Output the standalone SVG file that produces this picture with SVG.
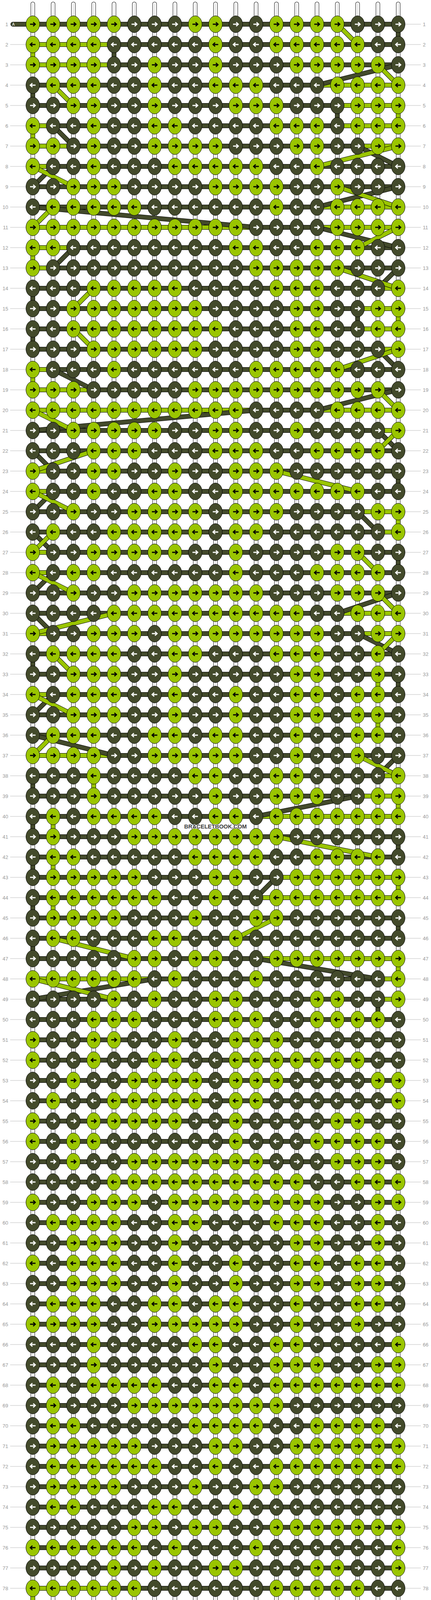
<svg xmlns="http://www.w3.org/2000/svg" xmlns:xlink="http://www.w3.org/1999/xlink" width="1104" height="4232" viewBox="0 0 1104 4232">
<style>
.G{fill:#9ac500;stroke:#000;stroke-width:1}
.D{fill:#434a2b;stroke:#000;stroke-width:1}
.ak{fill:none;stroke:#000;stroke-width:2.8}
.aw{fill:none;stroke:#fff;stroke-width:2.8}
.o{fill:none;stroke:#000;stroke-width:12}
.fd{fill:none;stroke:#434a2b;stroke-width:10}
.fg{fill:none;stroke:#9ac500;stroke-width:10}
text{font-family:"Liberation Sans",Arial,sans-serif}
.lb{font-size:13px;fill:#999}
.le{text-anchor:end}
</style>
<defs>
<g id="a"><ellipse rx="17.5" ry="21.5" class="G"/><path d="M-7 0H6M1-5l5.5 5-5.5 5" class="ak"/></g>
<g id="b"><ellipse rx="17.5" ry="21.5" class="D"/><path d="M-7 0H6M1-5l5.5 5-5.5 5" class="aw"/></g>
<g id="c"><ellipse rx="17.5" ry="21.5" class="G"/><path d="M7 0H-6M-1-5l-5.5 5 5.5 5" class="ak"/></g>
<g id="d"><ellipse rx="17.5" ry="21.5" class="D"/><path d="M7 0H-6M-1-5l-5.5 5 5.5 5" class="aw"/></g>
<pattern id="pb" patternUnits="userSpaceOnUse" x="0" y="36" width="1104" height="52"><rect y="20" width="1104" height="12" fill="#000"/><rect y="21" width="1104" height="10" fill="#434a2b"/></pattern>
<pattern id="pl" patternUnits="userSpaceOnUse" x="0" y="36" width="1104" height="52"><rect y="25.5" width="1104" height="1" fill="#bbb"/></pattern>
<path id="vs" d="M84 10V4222M136 10V4222M188 10V4222M240 10V4222M292 10V4222M344 10V4222M396 10V4222M448 10V4222M500 10V4222M552 10V4222M604 10V4222M656 10V4222M708 10V4222M760 10V4222M812 10V4222M864 10V4222M916 10V4222M968 10V4222M1020 10V4222"/>
<path id="hc" d="M33 62H84M33 4170H84"/>
<path id="hg" d="M84 114H292M84 166H292M812 218H1020M864 270H1020M84 322H136M864 322H1020M84 374H188M916 374H1020M84 426H136M812 530H1020M84 582H656M812 582H1020M84 634H188M84 686H136M968 738H1020M916 790H1020M916 842H1020M968 894H1020M84 946H136M84 998H240M84 1050H656M812 1050H1020M968 1102H1020M84 1206H136M84 1258H136M916 1310H1020M968 1362H1020M84 1414H136M84 1466H136M864 1570H1020M84 1622H136M916 1622H1020M84 1778H136M84 1934H292M968 1986H1020M916 2038H1020M656 2090H1020M708 2246H1020M656 2298H1020M656 2454H1020M84 2506H396M968 2506H1020M968 2558H1020M84 4066H292M84 4118H292M968 4118H1020M916 4170H1020"/>
<path id="vd" d="M1020 62V114M292 114V166M84 218V270M864 270V322M84 738V790M916 790V842M84 842V894M1020 1206V1258M1020 1414V1466M84 1674V1726M1020 1726V1778M84 1986V2038M84 2090V2142M1020 2142V2194M84 2194V2246M84 2298V2350M1020 2350V2402M84 2402V2454M968 2558V2610"/>
<path id="vg" d="M84 114V166M1020 270V322M84 322V374M84 634V686M1020 790V842M84 946V998M1020 1310V1362M968 1726V1778M968 1830V1882M240 1986V2038M1020 2038V2090M136 2090V2142M136 2194V2246M1020 2246V2298M136 2298V2350M1020 2454V2506M84 4066V4118M1020 4118V4170"/>
<path id="dg" d="M864 62L916 114M968 166L1020 218M136 218L188 270M1020 374L812 426M84 426L188 478M864 478L1020 530M136 530L84 582M1020 582L916 634M864 686L1020 738M240 738L188 790M188 842L240 894M1020 894L864 946M968 998L1020 1050M84 1050L188 1102M1020 1102L968 1154M240 1154L84 1206M708 1206L916 1258M84 1258L188 1310M136 1362L84 1414M916 1414L968 1466M84 1466L188 1518M968 1518L1020 1570M292 1570L84 1622M1020 1622L968 1674M136 1674L188 1726M84 1778L188 1830M136 1882L84 1934M916 1934L1020 1986M708 2142L968 2194M708 2350L604 2402M136 2402L344 2454M84 2506L292 2558"/>
<path id="dd" d="M1020 166L812 218M136 322L188 374M916 374L1020 426M136 426L84 478M1020 478L812 530M84 530L656 582M812 582L1020 634M188 634L136 686M1020 686L968 738M968 894L1020 946M136 946L240 998M1020 998L812 1050M656 1050L84 1102M968 1102L1020 1154M84 1154L136 1206M136 1258L84 1310M916 1310L968 1362M84 1362L136 1414M136 1466L84 1518M1020 1518L864 1570M84 1570L136 1622M916 1622L1020 1674M136 1778L84 1830M84 1882L292 1934M1020 1934L968 1986M916 2038L656 2090M708 2246L656 2298M656 2454L968 2506M396 2506L84 2558M968 4118L916 4170"/>
</defs>
<rect width="1104" height="4232" fill="#fff"/>
<g id="strings" fill="none" stroke-linecap="round">
<use href="#vs" stroke="#000" stroke-width="11"/>
<use href="#vs" stroke="#fff" stroke-width="9"/>
<use href="#vs" stroke="#c4c4c4" stroke-width="1.2"/>
</g>
<g id="connectors">
<rect x="84" y="36" width="936" height="4160" fill="url(#pb)"/>
<use href="#hc" class="o" stroke-linecap="round"/>
<use href="#hc" class="fd" stroke-linecap="round"/>
<use href="#hg" class="o"/>
<use href="#hg" class="fg"/>
<use href="#vd" class="o"/><use href="#vd" class="fd"/>
<use href="#vg" class="o"/><use href="#vg" class="fg"/>
<use href="#dd" class="o"/><use href="#dd" class="fd"/>
<use href="#dg" class="o"/><use href="#dg" class="fg"/>
</g>
<g id="knots">
<g id="r1" transform="translate(0 62)"><use href="#a" x="84"/><use href="#a" x="136"/><use href="#a" x="188"/><use href="#a" x="240"/><use href="#a" x="292"/><use href="#b" x="344"/><use href="#b" x="396"/><use href="#b" x="448"/><use href="#a" x="500"/><use href="#a" x="552"/><use href="#b" x="604"/><use href="#b" x="656"/><use href="#a" x="708"/><use href="#a" x="760"/><use href="#a" x="812"/><use href="#a" x="864"/><use href="#b" x="916"/><use href="#b" x="968"/><use href="#b" x="1020"/></g>
<g id="r2" transform="translate(0 114)"><use href="#c" x="84"/><use href="#c" x="136"/><use href="#c" x="188"/><use href="#c" x="240"/><use href="#d" x="292"/><use href="#d" x="344"/><use href="#d" x="396"/><use href="#d" x="448"/><use href="#d" x="500"/><use href="#c" x="552"/><use href="#d" x="604"/><use href="#d" x="656"/><use href="#c" x="708"/><use href="#c" x="760"/><use href="#c" x="812"/><use href="#c" x="864"/><use href="#c" x="916"/><use href="#d" x="968"/><use href="#d" x="1020"/></g>
<g id="r3" transform="translate(0 166)"><use href="#a" x="84"/><use href="#a" x="136"/><use href="#a" x="188"/><use href="#a" x="240"/><use href="#b" x="292"/><use href="#b" x="344"/><use href="#a" x="396"/><use href="#b" x="448"/><use href="#b" x="500"/><use href="#a" x="552"/><use href="#b" x="604"/><use href="#b" x="656"/><use href="#b" x="708"/><use href="#a" x="760"/><use href="#a" x="812"/><use href="#a" x="864"/><use href="#a" x="916"/><use href="#a" x="968"/><use href="#b" x="1020"/></g>
<g id="r4" transform="translate(0 218)"><use href="#d" x="84"/><use href="#c" x="136"/><use href="#c" x="188"/><use href="#c" x="240"/><use href="#d" x="292"/><use href="#d" x="344"/><use href="#c" x="396"/><use href="#d" x="448"/><use href="#d" x="500"/><use href="#c" x="552"/><use href="#c" x="604"/><use href="#c" x="656"/><use href="#d" x="708"/><use href="#d" x="760"/><use href="#d" x="812"/><use href="#c" x="864"/><use href="#c" x="916"/><use href="#c" x="968"/><use href="#c" x="1020"/></g>
<g id="r5" transform="translate(0 270)"><use href="#b" x="84"/><use href="#b" x="136"/><use href="#a" x="188"/><use href="#a" x="240"/><use href="#b" x="292"/><use href="#b" x="344"/><use href="#a" x="396"/><use href="#b" x="448"/><use href="#b" x="500"/><use href="#b" x="552"/><use href="#a" x="604"/><use href="#a" x="656"/><use href="#a" x="708"/><use href="#b" x="760"/><use href="#b" x="812"/><use href="#b" x="864"/><use href="#a" x="916"/><use href="#a" x="968"/><use href="#a" x="1020"/></g>
<g id="r6" transform="translate(0 322)"><use href="#c" x="84"/><use href="#d" x="136"/><use href="#d" x="188"/><use href="#c" x="240"/><use href="#d" x="292"/><use href="#d" x="344"/><use href="#c" x="396"/><use href="#c" x="448"/><use href="#d" x="500"/><use href="#d" x="552"/><use href="#d" x="604"/><use href="#d" x="656"/><use href="#c" x="708"/><use href="#c" x="760"/><use href="#c" x="812"/><use href="#d" x="864"/><use href="#c" x="916"/><use href="#c" x="968"/><use href="#c" x="1020"/></g>
<g id="r7" transform="translate(0 374)"><use href="#a" x="84"/><use href="#a" x="136"/><use href="#b" x="188"/><use href="#a" x="240"/><use href="#b" x="292"/><use href="#b" x="344"/><use href="#a" x="396"/><use href="#a" x="448"/><use href="#a" x="500"/><use href="#a" x="552"/><use href="#b" x="604"/><use href="#b" x="656"/><use href="#b" x="708"/><use href="#a" x="760"/><use href="#a" x="812"/><use href="#b" x="864"/><use href="#b" x="916"/><use href="#a" x="968"/><use href="#a" x="1020"/></g>
<g id="r8" transform="translate(0 426)"><use href="#c" x="84"/><use href="#d" x="136"/><use href="#d" x="188"/><use href="#c" x="240"/><use href="#d" x="292"/><use href="#d" x="344"/><use href="#d" x="396"/><use href="#c" x="448"/><use href="#c" x="500"/><use href="#c" x="552"/><use href="#c" x="604"/><use href="#c" x="656"/><use href="#d" x="708"/><use href="#d" x="760"/><use href="#c" x="812"/><use href="#d" x="864"/><use href="#d" x="916"/><use href="#d" x="968"/><use href="#d" x="1020"/></g>
<g id="r9" transform="translate(0 478)"><use href="#b" x="84"/><use href="#b" x="136"/><use href="#a" x="188"/><use href="#a" x="240"/><use href="#a" x="292"/><use href="#b" x="344"/><use href="#b" x="396"/><use href="#b" x="448"/><use href="#b" x="500"/><use href="#a" x="552"/><use href="#a" x="604"/><use href="#a" x="656"/><use href="#a" x="708"/><use href="#b" x="760"/><use href="#b" x="812"/><use href="#a" x="864"/><use href="#b" x="916"/><use href="#b" x="968"/><use href="#b" x="1020"/></g>
<g id="r10" transform="translate(0 530)"><use href="#d" x="84"/><use href="#c" x="136"/><use href="#c" x="188"/><use href="#c" x="240"/><use href="#c" x="292"/><use href="#c" x="344"/><use href="#d" x="396"/><use href="#d" x="448"/><use href="#d" x="500"/><use href="#d" x="552"/><use href="#d" x="604"/><use href="#d" x="656"/><use href="#c" x="708"/><use href="#d" x="760"/><use href="#d" x="812"/><use href="#c" x="864"/><use href="#c" x="916"/><use href="#c" x="968"/><use href="#c" x="1020"/></g>
<g id="r11" transform="translate(0 582)"><use href="#a" x="84"/><use href="#a" x="136"/><use href="#a" x="188"/><use href="#a" x="240"/><use href="#a" x="292"/><use href="#a" x="344"/><use href="#a" x="396"/><use href="#a" x="448"/><use href="#a" x="500"/><use href="#a" x="552"/><use href="#a" x="604"/><use href="#b" x="656"/><use href="#b" x="708"/><use href="#b" x="760"/><use href="#b" x="812"/><use href="#a" x="864"/><use href="#a" x="916"/><use href="#a" x="968"/><use href="#a" x="1020"/></g>
<g id="r12" transform="translate(0 634)"><use href="#c" x="84"/><use href="#c" x="136"/><use href="#d" x="188"/><use href="#d" x="240"/><use href="#d" x="292"/><use href="#d" x="344"/><use href="#d" x="396"/><use href="#d" x="448"/><use href="#d" x="500"/><use href="#d" x="552"/><use href="#c" x="604"/><use href="#c" x="656"/><use href="#d" x="708"/><use href="#d" x="760"/><use href="#c" x="812"/><use href="#c" x="864"/><use href="#c" x="916"/><use href="#d" x="968"/><use href="#d" x="1020"/></g>
<g id="r13" transform="translate(0 686)"><use href="#a" x="84"/><use href="#b" x="136"/><use href="#b" x="188"/><use href="#b" x="240"/><use href="#b" x="292"/><use href="#b" x="344"/><use href="#b" x="396"/><use href="#b" x="448"/><use href="#b" x="500"/><use href="#b" x="552"/><use href="#b" x="604"/><use href="#a" x="656"/><use href="#a" x="708"/><use href="#a" x="760"/><use href="#a" x="812"/><use href="#a" x="864"/><use href="#b" x="916"/><use href="#b" x="968"/><use href="#b" x="1020"/></g>
<g id="r14" transform="translate(0 738)"><use href="#d" x="84"/><use href="#d" x="136"/><use href="#d" x="188"/><use href="#c" x="240"/><use href="#c" x="292"/><use href="#c" x="344"/><use href="#c" x="396"/><use href="#c" x="448"/><use href="#d" x="500"/><use href="#d" x="552"/><use href="#d" x="604"/><use href="#d" x="656"/><use href="#c" x="708"/><use href="#c" x="760"/><use href="#c" x="812"/><use href="#d" x="864"/><use href="#d" x="916"/><use href="#d" x="968"/><use href="#c" x="1020"/></g>
<g id="r15" transform="translate(0 790)"><use href="#b" x="84"/><use href="#b" x="136"/><use href="#a" x="188"/><use href="#a" x="240"/><use href="#a" x="292"/><use href="#a" x="344"/><use href="#a" x="396"/><use href="#a" x="448"/><use href="#a" x="500"/><use href="#b" x="552"/><use href="#b" x="604"/><use href="#b" x="656"/><use href="#b" x="708"/><use href="#a" x="760"/><use href="#a" x="812"/><use href="#b" x="864"/><use href="#b" x="916"/><use href="#a" x="968"/><use href="#a" x="1020"/></g>
<g id="r16" transform="translate(0 842)"><use href="#d" x="84"/><use href="#d" x="136"/><use href="#c" x="188"/><use href="#c" x="240"/><use href="#c" x="292"/><use href="#c" x="344"/><use href="#c" x="396"/><use href="#c" x="448"/><use href="#c" x="500"/><use href="#c" x="552"/><use href="#d" x="604"/><use href="#d" x="656"/><use href="#d" x="708"/><use href="#c" x="760"/><use href="#c" x="812"/><use href="#d" x="864"/><use href="#d" x="916"/><use href="#c" x="968"/><use href="#c" x="1020"/></g>
<g id="r17" transform="translate(0 894)"><use href="#b" x="84"/><use href="#b" x="136"/><use href="#b" x="188"/><use href="#a" x="240"/><use href="#a" x="292"/><use href="#a" x="344"/><use href="#a" x="396"/><use href="#a" x="448"/><use href="#a" x="500"/><use href="#b" x="552"/><use href="#b" x="604"/><use href="#b" x="656"/><use href="#b" x="708"/><use href="#a" x="760"/><use href="#a" x="812"/><use href="#b" x="864"/><use href="#b" x="916"/><use href="#b" x="968"/><use href="#a" x="1020"/></g>
<g id="r18" transform="translate(0 946)"><use href="#c" x="84"/><use href="#d" x="136"/><use href="#d" x="188"/><use href="#d" x="240"/><use href="#c" x="292"/><use href="#d" x="344"/><use href="#d" x="396"/><use href="#d" x="448"/><use href="#d" x="500"/><use href="#d" x="552"/><use href="#d" x="604"/><use href="#c" x="656"/><use href="#c" x="708"/><use href="#c" x="760"/><use href="#c" x="812"/><use href="#c" x="864"/><use href="#d" x="916"/><use href="#d" x="968"/><use href="#d" x="1020"/></g>
<g id="r19" transform="translate(0 998)"><use href="#a" x="84"/><use href="#a" x="136"/><use href="#a" x="188"/><use href="#b" x="240"/><use href="#b" x="292"/><use href="#b" x="344"/><use href="#b" x="396"/><use href="#b" x="448"/><use href="#a" x="500"/><use href="#a" x="552"/><use href="#a" x="604"/><use href="#a" x="656"/><use href="#a" x="708"/><use href="#a" x="760"/><use href="#a" x="812"/><use href="#a" x="864"/><use href="#a" x="916"/><use href="#a" x="968"/><use href="#b" x="1020"/></g>
<g id="r20" transform="translate(0 1050)"><use href="#c" x="84"/><use href="#c" x="136"/><use href="#c" x="188"/><use href="#c" x="240"/><use href="#c" x="292"/><use href="#c" x="344"/><use href="#c" x="396"/><use href="#c" x="448"/><use href="#c" x="500"/><use href="#c" x="552"/><use href="#c" x="604"/><use href="#d" x="656"/><use href="#d" x="708"/><use href="#d" x="760"/><use href="#d" x="812"/><use href="#c" x="864"/><use href="#c" x="916"/><use href="#c" x="968"/><use href="#c" x="1020"/></g>
<g id="r21" transform="translate(0 1102)"><use href="#b" x="84"/><use href="#b" x="136"/><use href="#a" x="188"/><use href="#a" x="240"/><use href="#a" x="292"/><use href="#a" x="344"/><use href="#a" x="396"/><use href="#b" x="448"/><use href="#b" x="500"/><use href="#a" x="552"/><use href="#a" x="604"/><use href="#b" x="656"/><use href="#b" x="708"/><use href="#a" x="760"/><use href="#b" x="812"/><use href="#b" x="864"/><use href="#b" x="916"/><use href="#b" x="968"/><use href="#a" x="1020"/></g>
<g id="r22" transform="translate(0 1154)"><use href="#d" x="84"/><use href="#d" x="136"/><use href="#d" x="188"/><use href="#c" x="240"/><use href="#c" x="292"/><use href="#c" x="344"/><use href="#d" x="396"/><use href="#d" x="448"/><use href="#d" x="500"/><use href="#c" x="552"/><use href="#c" x="604"/><use href="#c" x="656"/><use href="#d" x="708"/><use href="#d" x="760"/><use href="#c" x="812"/><use href="#c" x="864"/><use href="#c" x="916"/><use href="#c" x="968"/><use href="#d" x="1020"/></g>
<g id="r23" transform="translate(0 1206)"><use href="#a" x="84"/><use href="#b" x="136"/><use href="#b" x="188"/><use href="#a" x="240"/><use href="#a" x="292"/><use href="#b" x="344"/><use href="#b" x="396"/><use href="#a" x="448"/><use href="#b" x="500"/><use href="#b" x="552"/><use href="#a" x="604"/><use href="#a" x="656"/><use href="#a" x="708"/><use href="#b" x="760"/><use href="#b" x="812"/><use href="#b" x="864"/><use href="#b" x="916"/><use href="#b" x="968"/><use href="#b" x="1020"/></g>
<g id="r24" transform="translate(0 1258)"><use href="#c" x="84"/><use href="#d" x="136"/><use href="#d" x="188"/><use href="#c" x="240"/><use href="#d" x="292"/><use href="#d" x="344"/><use href="#c" x="396"/><use href="#c" x="448"/><use href="#d" x="500"/><use href="#d" x="552"/><use href="#c" x="604"/><use href="#c" x="656"/><use href="#c" x="708"/><use href="#c" x="760"/><use href="#c" x="812"/><use href="#c" x="864"/><use href="#c" x="916"/><use href="#d" x="968"/><use href="#d" x="1020"/></g>
<g id="r25" transform="translate(0 1310)"><use href="#b" x="84"/><use href="#b" x="136"/><use href="#a" x="188"/><use href="#b" x="240"/><use href="#b" x="292"/><use href="#a" x="344"/><use href="#a" x="396"/><use href="#a" x="448"/><use href="#a" x="500"/><use href="#b" x="552"/><use href="#a" x="604"/><use href="#a" x="656"/><use href="#a" x="708"/><use href="#b" x="760"/><use href="#b" x="812"/><use href="#b" x="864"/><use href="#b" x="916"/><use href="#a" x="968"/><use href="#a" x="1020"/></g>
<g id="r26" transform="translate(0 1362)"><use href="#d" x="84"/><use href="#c" x="136"/><use href="#d" x="188"/><use href="#d" x="240"/><use href="#c" x="292"/><use href="#c" x="344"/><use href="#c" x="396"/><use href="#c" x="448"/><use href="#c" x="500"/><use href="#d" x="552"/><use href="#c" x="604"/><use href="#c" x="656"/><use href="#d" x="708"/><use href="#d" x="760"/><use href="#d" x="812"/><use href="#d" x="864"/><use href="#d" x="916"/><use href="#d" x="968"/><use href="#c" x="1020"/></g>
<g id="r27" transform="translate(0 1414)"><use href="#a" x="84"/><use href="#b" x="136"/><use href="#b" x="188"/><use href="#a" x="240"/><use href="#a" x="292"/><use href="#a" x="344"/><use href="#a" x="396"/><use href="#a" x="448"/><use href="#b" x="500"/><use href="#b" x="552"/><use href="#a" x="604"/><use href="#b" x="656"/><use href="#b" x="708"/><use href="#b" x="760"/><use href="#b" x="812"/><use href="#a" x="864"/><use href="#a" x="916"/><use href="#b" x="968"/><use href="#b" x="1020"/></g>
<g id="r28" transform="translate(0 1466)"><use href="#c" x="84"/><use href="#d" x="136"/><use href="#c" x="188"/><use href="#c" x="240"/><use href="#d" x="292"/><use href="#d" x="344"/><use href="#d" x="396"/><use href="#d" x="448"/><use href="#d" x="500"/><use href="#d" x="552"/><use href="#c" x="604"/><use href="#d" x="656"/><use href="#d" x="708"/><use href="#d" x="760"/><use href="#c" x="812"/><use href="#c" x="864"/><use href="#c" x="916"/><use href="#c" x="968"/><use href="#d" x="1020"/></g>
<g id="r29" transform="translate(0 1518)"><use href="#b" x="84"/><use href="#b" x="136"/><use href="#a" x="188"/><use href="#b" x="240"/><use href="#b" x="292"/><use href="#a" x="344"/><use href="#a" x="396"/><use href="#a" x="448"/><use href="#a" x="500"/><use href="#a" x="552"/><use href="#a" x="604"/><use href="#a" x="656"/><use href="#b" x="708"/><use href="#b" x="760"/><use href="#b" x="812"/><use href="#a" x="864"/><use href="#a" x="916"/><use href="#a" x="968"/><use href="#b" x="1020"/></g>
<g id="r30" transform="translate(0 1570)"><use href="#d" x="84"/><use href="#d" x="136"/><use href="#d" x="188"/><use href="#d" x="240"/><use href="#c" x="292"/><use href="#c" x="344"/><use href="#c" x="396"/><use href="#c" x="448"/><use href="#c" x="500"/><use href="#c" x="552"/><use href="#c" x="604"/><use href="#c" x="656"/><use href="#c" x="708"/><use href="#c" x="760"/><use href="#d" x="812"/><use href="#d" x="864"/><use href="#c" x="916"/><use href="#c" x="968"/><use href="#c" x="1020"/></g>
<g id="r31" transform="translate(0 1622)"><use href="#a" x="84"/><use href="#b" x="136"/><use href="#b" x="188"/><use href="#a" x="240"/><use href="#a" x="292"/><use href="#a" x="344"/><use href="#b" x="396"/><use href="#a" x="448"/><use href="#a" x="500"/><use href="#a" x="552"/><use href="#a" x="604"/><use href="#a" x="656"/><use href="#a" x="708"/><use href="#a" x="760"/><use href="#a" x="812"/><use href="#b" x="864"/><use href="#b" x="916"/><use href="#a" x="968"/><use href="#a" x="1020"/></g>
<g id="r32" transform="translate(0 1674)"><use href="#d" x="84"/><use href="#c" x="136"/><use href="#c" x="188"/><use href="#c" x="240"/><use href="#c" x="292"/><use href="#d" x="344"/><use href="#d" x="396"/><use href="#c" x="448"/><use href="#c" x="500"/><use href="#d" x="552"/><use href="#d" x="604"/><use href="#d" x="656"/><use href="#c" x="708"/><use href="#c" x="760"/><use href="#c" x="812"/><use href="#d" x="864"/><use href="#d" x="916"/><use href="#c" x="968"/><use href="#d" x="1020"/></g>
<g id="r33" transform="translate(0 1726)"><use href="#b" x="84"/><use href="#b" x="136"/><use href="#a" x="188"/><use href="#a" x="240"/><use href="#a" x="292"/><use href="#b" x="344"/><use href="#b" x="396"/><use href="#a" x="448"/><use href="#b" x="500"/><use href="#b" x="552"/><use href="#b" x="604"/><use href="#b" x="656"/><use href="#b" x="708"/><use href="#a" x="760"/><use href="#a" x="812"/><use href="#b" x="864"/><use href="#b" x="916"/><use href="#a" x="968"/><use href="#b" x="1020"/></g>
<g id="r34" transform="translate(0 1778)"><use href="#c" x="84"/><use href="#d" x="136"/><use href="#c" x="188"/><use href="#c" x="240"/><use href="#c" x="292"/><use href="#d" x="344"/><use href="#d" x="396"/><use href="#c" x="448"/><use href="#d" x="500"/><use href="#d" x="552"/><use href="#c" x="604"/><use href="#d" x="656"/><use href="#d" x="708"/><use href="#c" x="760"/><use href="#c" x="812"/><use href="#d" x="864"/><use href="#c" x="916"/><use href="#c" x="968"/><use href="#d" x="1020"/></g>
<g id="r35" transform="translate(0 1830)"><use href="#b" x="84"/><use href="#b" x="136"/><use href="#a" x="188"/><use href="#a" x="240"/><use href="#a" x="292"/><use href="#b" x="344"/><use href="#b" x="396"/><use href="#a" x="448"/><use href="#b" x="500"/><use href="#b" x="552"/><use href="#a" x="604"/><use href="#b" x="656"/><use href="#b" x="708"/><use href="#a" x="760"/><use href="#a" x="812"/><use href="#b" x="864"/><use href="#a" x="916"/><use href="#a" x="968"/><use href="#b" x="1020"/></g>
<g id="r36" transform="translate(0 1882)"><use href="#d" x="84"/><use href="#c" x="136"/><use href="#c" x="188"/><use href="#c" x="240"/><use href="#d" x="292"/><use href="#d" x="344"/><use href="#c" x="396"/><use href="#c" x="448"/><use href="#d" x="500"/><use href="#c" x="552"/><use href="#c" x="604"/><use href="#d" x="656"/><use href="#d" x="708"/><use href="#c" x="760"/><use href="#d" x="812"/><use href="#d" x="864"/><use href="#c" x="916"/><use href="#c" x="968"/><use href="#d" x="1020"/></g>
<g id="r37" transform="translate(0 1934)"><use href="#a" x="84"/><use href="#a" x="136"/><use href="#a" x="188"/><use href="#a" x="240"/><use href="#b" x="292"/><use href="#b" x="344"/><use href="#a" x="396"/><use href="#a" x="448"/><use href="#a" x="500"/><use href="#a" x="552"/><use href="#a" x="604"/><use href="#b" x="656"/><use href="#b" x="708"/><use href="#a" x="760"/><use href="#b" x="812"/><use href="#b" x="864"/><use href="#a" x="916"/><use href="#b" x="968"/><use href="#b" x="1020"/></g>
<g id="r38" transform="translate(0 1986)"><use href="#d" x="84"/><use href="#d" x="136"/><use href="#d" x="188"/><use href="#c" x="240"/><use href="#d" x="292"/><use href="#d" x="344"/><use href="#d" x="396"/><use href="#d" x="448"/><use href="#c" x="500"/><use href="#c" x="552"/><use href="#d" x="604"/><use href="#d" x="656"/><use href="#c" x="708"/><use href="#c" x="760"/><use href="#d" x="812"/><use href="#d" x="864"/><use href="#d" x="916"/><use href="#d" x="968"/><use href="#c" x="1020"/></g>
<g id="r39" transform="translate(0 2038)"><use href="#b" x="84"/><use href="#b" x="136"/><use href="#b" x="188"/><use href="#a" x="240"/><use href="#b" x="292"/><use href="#b" x="344"/><use href="#b" x="396"/><use href="#b" x="448"/><use href="#b" x="500"/><use href="#a" x="552"/><use href="#b" x="604"/><use href="#b" x="656"/><use href="#a" x="708"/><use href="#a" x="760"/><use href="#a" x="812"/><use href="#b" x="864"/><use href="#b" x="916"/><use href="#a" x="968"/><use href="#a" x="1020"/></g>
<g id="r40" transform="translate(0 2090)"><use href="#d" x="84"/><use href="#c" x="136"/><use href="#d" x="188"/><use href="#c" x="240"/><use href="#c" x="292"/><use href="#c" x="344"/><use href="#c" x="396"/><use href="#d" x="448"/><use href="#d" x="500"/><use href="#c" x="552"/><use href="#c" x="604"/><use href="#d" x="656"/><use href="#c" x="708"/><use href="#c" x="760"/><use href="#c" x="812"/><use href="#c" x="864"/><use href="#c" x="916"/><use href="#c" x="968"/><use href="#c" x="1020"/></g>
<g id="r41" transform="translate(0 2142)"><use href="#b" x="84"/><use href="#a" x="136"/><use href="#b" x="188"/><use href="#b" x="240"/><use href="#b" x="292"/><use href="#a" x="344"/><use href="#a" x="396"/><use href="#a" x="448"/><use href="#a" x="500"/><use href="#a" x="552"/><use href="#a" x="604"/><use href="#a" x="656"/><use href="#a" x="708"/><use href="#b" x="760"/><use href="#b" x="812"/><use href="#b" x="864"/><use href="#b" x="916"/><use href="#b" x="968"/><use href="#b" x="1020"/></g>
<g id="r42" transform="translate(0 2194)"><use href="#d" x="84"/><use href="#c" x="136"/><use href="#c" x="188"/><use href="#d" x="240"/><use href="#d" x="292"/><use href="#d" x="344"/><use href="#d" x="396"/><use href="#d" x="448"/><use href="#c" x="500"/><use href="#c" x="552"/><use href="#c" x="604"/><use href="#c" x="656"/><use href="#d" x="708"/><use href="#d" x="760"/><use href="#c" x="812"/><use href="#c" x="864"/><use href="#c" x="916"/><use href="#c" x="968"/><use href="#d" x="1020"/></g>
<g id="r43" transform="translate(0 2246)"><use href="#b" x="84"/><use href="#a" x="136"/><use href="#a" x="188"/><use href="#a" x="240"/><use href="#a" x="292"/><use href="#a" x="344"/><use href="#b" x="396"/><use href="#b" x="448"/><use href="#b" x="500"/><use href="#a" x="552"/><use href="#a" x="604"/><use href="#b" x="656"/><use href="#b" x="708"/><use href="#a" x="760"/><use href="#a" x="812"/><use href="#a" x="864"/><use href="#a" x="916"/><use href="#a" x="968"/><use href="#a" x="1020"/></g>
<g id="r44" transform="translate(0 2298)"><use href="#d" x="84"/><use href="#c" x="136"/><use href="#c" x="188"/><use href="#c" x="240"/><use href="#c" x="292"/><use href="#c" x="344"/><use href="#c" x="396"/><use href="#d" x="448"/><use href="#d" x="500"/><use href="#c" x="552"/><use href="#d" x="604"/><use href="#d" x="656"/><use href="#c" x="708"/><use href="#c" x="760"/><use href="#c" x="812"/><use href="#c" x="864"/><use href="#c" x="916"/><use href="#c" x="968"/><use href="#c" x="1020"/></g>
<g id="r45" transform="translate(0 2350)"><use href="#b" x="84"/><use href="#a" x="136"/><use href="#a" x="188"/><use href="#a" x="240"/><use href="#a" x="292"/><use href="#b" x="344"/><use href="#b" x="396"/><use href="#b" x="448"/><use href="#a" x="500"/><use href="#b" x="552"/><use href="#b" x="604"/><use href="#a" x="656"/><use href="#a" x="708"/><use href="#b" x="760"/><use href="#b" x="812"/><use href="#b" x="864"/><use href="#b" x="916"/><use href="#b" x="968"/><use href="#b" x="1020"/></g>
<g id="r46" transform="translate(0 2402)"><use href="#d" x="84"/><use href="#c" x="136"/><use href="#c" x="188"/><use href="#d" x="240"/><use href="#d" x="292"/><use href="#d" x="344"/><use href="#c" x="396"/><use href="#c" x="448"/><use href="#d" x="500"/><use href="#d" x="552"/><use href="#c" x="604"/><use href="#d" x="656"/><use href="#d" x="708"/><use href="#d" x="760"/><use href="#d" x="812"/><use href="#d" x="864"/><use href="#d" x="916"/><use href="#d" x="968"/><use href="#d" x="1020"/></g>
<g id="r47" transform="translate(0 2454)"><use href="#b" x="84"/><use href="#b" x="136"/><use href="#b" x="188"/><use href="#b" x="240"/><use href="#b" x="292"/><use href="#a" x="344"/><use href="#a" x="396"/><use href="#b" x="448"/><use href="#a" x="500"/><use href="#a" x="552"/><use href="#b" x="604"/><use href="#b" x="656"/><use href="#a" x="708"/><use href="#a" x="760"/><use href="#a" x="812"/><use href="#a" x="864"/><use href="#a" x="916"/><use href="#a" x="968"/><use href="#a" x="1020"/></g>
<g id="r48" transform="translate(0 2506)"><use href="#c" x="84"/><use href="#c" x="136"/><use href="#c" x="188"/><use href="#c" x="240"/><use href="#c" x="292"/><use href="#c" x="344"/><use href="#d" x="396"/><use href="#c" x="448"/><use href="#d" x="500"/><use href="#d" x="552"/><use href="#d" x="604"/><use href="#c" x="656"/><use href="#d" x="708"/><use href="#d" x="760"/><use href="#d" x="812"/><use href="#d" x="864"/><use href="#d" x="916"/><use href="#d" x="968"/><use href="#c" x="1020"/></g>
<g id="r49" transform="translate(0 2558)"><use href="#b" x="84"/><use href="#b" x="136"/><use href="#b" x="188"/><use href="#b" x="240"/><use href="#a" x="292"/><use href="#b" x="344"/><use href="#a" x="396"/><use href="#b" x="448"/><use href="#b" x="500"/><use href="#a" x="552"/><use href="#a" x="604"/><use href="#b" x="656"/><use href="#b" x="708"/><use href="#b" x="760"/><use href="#a" x="812"/><use href="#a" x="864"/><use href="#b" x="916"/><use href="#b" x="968"/><use href="#a" x="1020"/></g>
<use href="#r22" y="1456"/><use href="#r23" y="1456"/><use href="#r24" y="1456"/><use href="#r25" y="1456"/><use href="#r26" y="1456"/><use href="#r27" y="1456"/><use href="#r28" y="1456"/><use href="#r29" y="1456"/><use href="#r30" y="1456"/><use href="#r31" y="1456"/><use href="#r32" y="1456"/><use href="#r33" y="1456"/><use href="#r34" y="1456"/><use href="#r35" y="1456"/><use href="#r36" y="1456"/><use href="#r37" y="1456"/><use href="#r38" y="1456"/><use href="#r39" y="1456"/><use href="#r40" y="1456"/><use href="#r41" y="1456"/><use href="#r42" y="1456"/><use href="#r43" y="1456"/><use href="#r44" y="1456"/><use href="#r45" y="1456"/><use href="#r46" y="1456"/><use href="#r47" y="1456"/><use href="#r48" y="1456"/><use href="#r49" y="1456"/>
<g id="r78" transform="translate(0 4066)"><use href="#c" x="84"/><use href="#c" x="136"/><use href="#c" x="188"/><use href="#c" x="240"/><use href="#c" x="292"/><use href="#c" x="344"/><use href="#d" x="396"/><use href="#d" x="448"/><use href="#d" x="500"/><use href="#d" x="552"/><use href="#d" x="604"/><use href="#d" x="656"/><use href="#c" x="708"/><use href="#c" x="760"/><use href="#c" x="812"/><use href="#c" x="864"/><use href="#c" x="916"/><use href="#d" x="968"/><use href="#d" x="1020"/></g>
<g id="r79" transform="translate(0 4118)"><use href="#a" x="84"/><use href="#a" x="136"/><use href="#a" x="188"/><use href="#a" x="240"/><use href="#a" x="292"/><use href="#a" x="344"/><use href="#b" x="396"/><use href="#b" x="448"/><use href="#b" x="500"/><use href="#b" x="552"/><use href="#b" x="604"/><use href="#b" x="656"/><use href="#a" x="708"/><use href="#a" x="760"/><use href="#a" x="812"/><use href="#a" x="864"/><use href="#b" x="916"/><use href="#b" x="968"/><use href="#a" x="1020"/></g>
<g id="r80" transform="translate(0 4170)"><use href="#c" x="84"/><use href="#c" x="136"/><use href="#c" x="188"/><use href="#c" x="240"/><use href="#c" x="292"/><use href="#c" x="344"/><use href="#d" x="396"/><use href="#d" x="448"/><use href="#d" x="500"/><use href="#d" x="552"/><use href="#d" x="604"/><use href="#d" x="656"/><use href="#c" x="708"/><use href="#c" x="760"/><use href="#c" x="812"/><use href="#d" x="864"/><use href="#d" x="916"/><use href="#c" x="968"/><use href="#c" x="1020"/></g>
</g>
<g id="labels">
<rect x="26" y="88" width="40" height="4056" fill="url(#pl)"/>
<rect x="1038" y="36" width="40" height="4160" fill="url(#pl)"/>
<text x="31" y="66" font-size="10" fill="#fff">A</text>
<text x="31" y="4174" font-size="10" fill="#fff">A</text>
<g class="lb le">
<text x="21" y="67">1</text><text x="21" y="119">2</text><text x="21" y="171">3</text><text x="21" y="223">4</text><text x="21" y="275">5</text><text x="21" y="327">6</text><text x="21" y="379">7</text><text x="21" y="431">8</text><text x="21" y="483">9</text><text x="21" y="535">10</text><text x="21" y="587">11</text><text x="21" y="639">12</text><text x="21" y="691">13</text><text x="21" y="743">14</text><text x="21" y="795">15</text><text x="21" y="847">16</text><text x="21" y="899">17</text><text x="21" y="951">18</text><text x="21" y="1003">19</text><text x="21" y="1055">20</text><text x="21" y="1107">21</text><text x="21" y="1159">22</text><text x="21" y="1211">23</text><text x="21" y="1263">24</text><text x="21" y="1315">25</text><text x="21" y="1367">26</text><text x="21" y="1419">27</text><text x="21" y="1471">28</text><text x="21" y="1523">29</text><text x="21" y="1575">30</text><text x="21" y="1627">31</text><text x="21" y="1679">32</text><text x="21" y="1731">33</text><text x="21" y="1783">34</text><text x="21" y="1835">35</text><text x="21" y="1887">36</text><text x="21" y="1939">37</text><text x="21" y="1991">38</text><text x="21" y="2043">39</text><text x="21" y="2095">40</text><text x="21" y="2147">41</text><text x="21" y="2199">42</text><text x="21" y="2251">43</text><text x="21" y="2303">44</text><text x="21" y="2355">45</text><text x="21" y="2407">46</text><text x="21" y="2459">47</text><text x="21" y="2511">48</text><text x="21" y="2563">49</text><text x="21" y="2615">50</text><text x="21" y="2667">51</text><text x="21" y="2719">52</text><text x="21" y="2771">53</text><text x="21" y="2823">54</text><text x="21" y="2875">55</text><text x="21" y="2927">56</text><text x="21" y="2979">57</text><text x="21" y="3031">58</text><text x="21" y="3083">59</text><text x="21" y="3135">60</text><text x="21" y="3187">61</text><text x="21" y="3239">62</text><text x="21" y="3291">63</text><text x="21" y="3343">64</text><text x="21" y="3395">65</text><text x="21" y="3447">66</text><text x="21" y="3499">67</text><text x="21" y="3551">68</text><text x="21" y="3603">69</text><text x="21" y="3655">70</text><text x="21" y="3707">71</text><text x="21" y="3759">72</text><text x="21" y="3811">73</text><text x="21" y="3863">74</text><text x="21" y="3915">75</text><text x="21" y="3967">76</text><text x="21" y="4019">77</text><text x="21" y="4071">78</text><text x="21" y="4123">79</text><text x="21" y="4175">80</text>
</g>
<g class="lb">
<text x="1083" y="67">1</text><text x="1083" y="119">2</text><text x="1083" y="171">3</text><text x="1083" y="223">4</text><text x="1083" y="275">5</text><text x="1083" y="327">6</text><text x="1083" y="379">7</text><text x="1083" y="431">8</text><text x="1083" y="483">9</text><text x="1083" y="535">10</text><text x="1083" y="587">11</text><text x="1083" y="639">12</text><text x="1083" y="691">13</text><text x="1083" y="743">14</text><text x="1083" y="795">15</text><text x="1083" y="847">16</text><text x="1083" y="899">17</text><text x="1083" y="951">18</text><text x="1083" y="1003">19</text><text x="1083" y="1055">20</text><text x="1083" y="1107">21</text><text x="1083" y="1159">22</text><text x="1083" y="1211">23</text><text x="1083" y="1263">24</text><text x="1083" y="1315">25</text><text x="1083" y="1367">26</text><text x="1083" y="1419">27</text><text x="1083" y="1471">28</text><text x="1083" y="1523">29</text><text x="1083" y="1575">30</text><text x="1083" y="1627">31</text><text x="1083" y="1679">32</text><text x="1083" y="1731">33</text><text x="1083" y="1783">34</text><text x="1083" y="1835">35</text><text x="1083" y="1887">36</text><text x="1083" y="1939">37</text><text x="1083" y="1991">38</text><text x="1083" y="2043">39</text><text x="1083" y="2095">40</text><text x="1083" y="2147">41</text><text x="1083" y="2199">42</text><text x="1083" y="2251">43</text><text x="1083" y="2303">44</text><text x="1083" y="2355">45</text><text x="1083" y="2407">46</text><text x="1083" y="2459">47</text><text x="1083" y="2511">48</text><text x="1083" y="2563">49</text><text x="1083" y="2615">50</text><text x="1083" y="2667">51</text><text x="1083" y="2719">52</text><text x="1083" y="2771">53</text><text x="1083" y="2823">54</text><text x="1083" y="2875">55</text><text x="1083" y="2927">56</text><text x="1083" y="2979">57</text><text x="1083" y="3031">58</text><text x="1083" y="3083">59</text><text x="1083" y="3135">60</text><text x="1083" y="3187">61</text><text x="1083" y="3239">62</text><text x="1083" y="3291">63</text><text x="1083" y="3343">64</text><text x="1083" y="3395">65</text><text x="1083" y="3447">66</text><text x="1083" y="3499">67</text><text x="1083" y="3551">68</text><text x="1083" y="3603">69</text><text x="1083" y="3655">70</text><text x="1083" y="3707">71</text><text x="1083" y="3759">72</text><text x="1083" y="3811">73</text><text x="1083" y="3863">74</text><text x="1083" y="3915">75</text><text x="1083" y="3967">76</text><text x="1083" y="4019">77</text><text x="1083" y="4071">78</text><text x="1083" y="4123">79</text><text x="1083" y="4175">80</text>
</g>
<text x="552" y="2121" text-anchor="middle" font-size="14.5" font-weight="bold" fill="#3d3d3d" stroke="#fff" stroke-width="2" paint-order="stroke">BRACELETBOOK.COM</text>
</g>
</svg>
